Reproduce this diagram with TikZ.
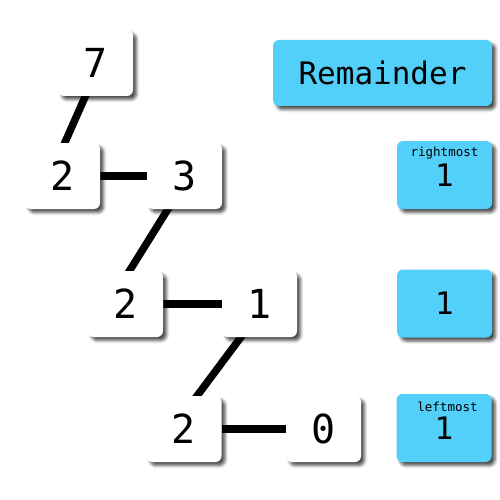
\documentclass[tikz,border=0pt]{standalone}
\usepackage{fontspec}
\setmonofont{DejaVu Sans Mono}
\usetikzlibrary{shadows.blur,calc}
\pgfdeclarelayer{bg}
\pgfsetlayers{bg,main}
\definecolor{remblue}{RGB}{82,208,250}
\tikzset{
  card/.style={rounded corners=6pt, inner sep=0pt,
    blur shadow={shadow xshift=3.5pt, shadow yshift=-3.5pt, shadow blur radius=3pt, shadow opacity=70}},
  numbox/.style={card, fill=white, minimum width=75pt, minimum height=66pt,
    font=\ttfamily\fontsize{40}{40}\selectfont},
  rembox/.style={card, fill=remblue, minimum width=95pt, minimum height=68pt,
    font=\ttfamily\fontsize{31}{31}\selectfont},
  tag/.style={inner sep=0pt, font=\ttfamily\fontsize{12.5}{12.5}\selectfont},
  link/.style={line width=7.5pt, black},
}
\begin{document}
\begin{tikzpicture}[x=1pt,y=-1pt]
\useasboundingbox (0,0) rectangle (500,500);
\node[numbox] (n7) at (95.5,63) {7};
\node[numbox] (a2) at (62.5,176) {2};
\node[numbox] (a3) at (184.5,176) {3};
\node[numbox] (b2) at (125.5,304) {2};
\node[numbox] (b1) at (259.5,304) {1};
\node[numbox] (c2) at (184,429) {2};
\node[numbox] (c0) at (323.5,429) {0};
\node[rembox, minimum width=219pt, minimum height=66pt] (rem) at (382.5,73) {Remainder};
\node[rembox] (r1) at (444.5,175) {1};
\node[rembox] (r2) at (444.5,303.5) {1};
\node[rembox] (r3) at (444,428) {1};
\node[tag] (t1) at (444.5,153) {rightmost};
\node[tag] (t3) at (447.5,407) {leftmost};
\begin{pgfonlayer}{bg}
\draw[link] ($(n7)+(-6.5,25)$) -- ($(a2)+(-1.8,-24)$);
\draw[link] (a2) -- (a3);
\draw[link] ($(a3)+(-11.2,24.5)$) -- ($(b2)+(-1.4,-24.5)$);
\draw[link] (b2) -- (b1);
\draw[link] ($(b1)+(-12.5,25)$) -- ($(c2)+(7,-25)$);
\draw[link] (c2) -- (c0);
\end{pgfonlayer}
\end{tikzpicture}
\end{document}
